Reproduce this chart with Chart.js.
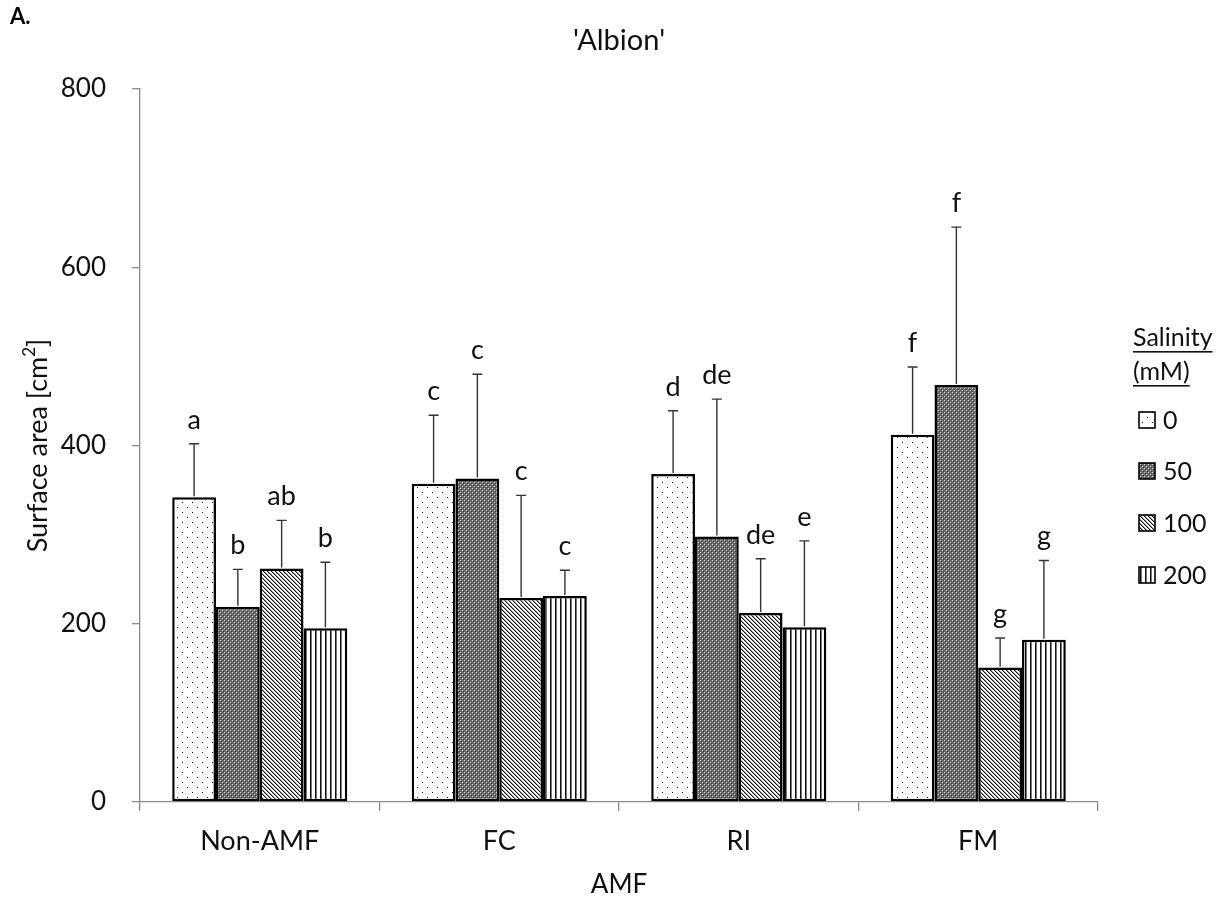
<!DOCTYPE html>
<html>
<head>
<meta charset="utf-8">
<script src="https://cdn.jsdelivr.net/npm/chart.js@4/dist/chart.umd.min.js"></script>
<style>
html,body{margin:0;padding:0;background:#fff;}
#wrap{width:1228px;height:901px;}
</style>
</head>
<body>
<div id="wrap"><canvas id="c" width="1228" height="901"></canvas></div>
<script>
// ---- data ----
const categories = ['Non-AMF', 'FC', 'RI', 'FM'];
const seriesNames = ['0', '50', '100', '200'];
const sal0 = [342, 357, 368, 412];
const sal50 = [219, 363, 298, 468];
const sal100 = [262, 229, 212, 151];
const sal200 = [195, 231, 196, 182];
const err0 = [60, 77, 71, 76];
const err50 = [42, 117, 154, 177];
const err100 = [54, 115, 61, 33];
const err200 = [74, 29, 97, 89];
const letters0 = ['a', 'c', 'd', 'f'];
const letters50 = ['b', 'c', 'de', 'f'];
const letters100 = ['ab', 'c', 'de', 'g'];
const letters200 = ['b', 'c', 'e', 'g'];
const yTicks = [0, 200, 400, 600, 800];

const FONT = 'Lato, "Open Sans", sans-serif';

// ---- patterns ----
function makePattern(kind) {
  const t = document.createElement('canvas');
  const g = t.getContext('2d');
  if (kind === 'dots') {
    t.width = 10; t.height = 10;
    g.fillStyle = '#fff'; g.fillRect(0, 0, 10, 10);
    g.fillStyle = '#111';
    g.fillRect(2, 2, 1, 1); g.fillRect(7, 7, 1, 1);
  } else if (kind === 'dark') {
    t.width = 4; t.height = 4;
    g.fillStyle = '#6a6a6a'; g.fillRect(0, 0, 4, 4);
    g.fillStyle = '#d8d8d8';
    g.fillRect(0, 0, 1, 1); g.fillRect(2, 2, 1, 1);
    g.fillStyle = '#3a3a3a';
    g.fillRect(1, 1, 1, 1); g.fillRect(3, 3, 1, 1);
  } else if (kind === 'diag') {
    t.width = 4; t.height = 4;
    g.fillStyle = '#fff'; g.fillRect(0, 0, 4, 4);
    for (let i = 0; i < 4; i++) {
      g.fillStyle = '#111'; g.fillRect(i, i, 1, 1);
      g.fillStyle = '#999'; g.fillRect((i + 1) % 4, i, 1, 1);
    }
  } else if (kind === 'vert') {
    t.width = 5; t.height = 5;
    g.fillStyle = '#fff'; g.fillRect(0, 0, 5, 5);
    g.fillStyle = '#111'; g.fillRect(0, 0, 1, 5);
    g.fillStyle = '#777'; g.fillRect(1, 0, 1, 5);
  }
  return document.getElementById('c').getContext('2d').createPattern(t, 'repeat');
}
const patterns = [makePattern('dots'), makePattern('dark'), makePattern('diag'), makePattern('vert')];
const values = [sal0, sal50, sal100, sal200];
const errs = [err0, err50, err100, err200];
const letters = [letters0, letters50, letters100, letters200];

const datasets = seriesNames.map((n, i) => ({
  label: n,
  data: values[i],
  backgroundColor: patterns[i],
  borderColor: '#000',
  borderWidth: 2.5,
  borderSkipped: false,
  categoryPercentage: 0.731,
  barPercentage: 1.0
}));

const overlay = {
  id: 'overlay',
  afterDatasetsDraw(chart) {
    const ctx = chart.ctx;
    const ys = chart.scales.y;
    ctx.save();
    chart.data.datasets.forEach((ds, di) => {
      const meta = chart.getDatasetMeta(di);
      meta.data.forEach((bar, i) => {
        const top = bar.y;
        const ey = ys.getPixelForValue(ds.data[i] + errs[di][i]);
        ctx.strokeStyle = '#333';
        ctx.lineWidth = 1.4;
        ctx.beginPath();
        ctx.moveTo(bar.x, top - 1);
        ctx.lineTo(bar.x, ey);
        ctx.moveTo(bar.x - 5, ey);
        ctx.lineTo(bar.x + 5, ey);
        ctx.stroke();
        ctx.fillStyle = '#111';
        ctx.font = '27px ' + FONT;
        ctx.textAlign = 'center';
        ctx.textBaseline = 'alphabetic';
        ctx.fillText(letters[di][i], bar.x, ey - 15);
      });
    });
    ctx.restore();
  },
  afterDraw(chart) {
    const ctx = chart.ctx;
    const ca = chart.chartArea;
    ctx.save();
    // panel label
    ctx.fillStyle = '#000';
    ctx.font = 'bold 22px ' + FONT;
    ctx.textAlign = 'left';
    ctx.textBaseline = 'alphabetic';
    ctx.fillText('A.', 10, 24);
    // title
    ctx.font = '29px ' + FONT;
    ctx.textAlign = 'center';
    ctx.fillStyle = '#111';
    ctx.fillText("'Albion'", (ca.left + ca.right) / 2, 50);
    // x title
    ctx.font = '26px ' + FONT;
    ctx.textBaseline = 'middle';
    ctx.fillText('AMF', (ca.left + ca.right) / 2, 885);
    // y title
    ctx.save();
    ctx.translate(38, (ca.top + ca.bottom) / 2);
    ctx.rotate(-Math.PI / 2);
    ctx.font = '27px ' + FONT;
    const t1 = 'Surface area [cm';
    const w1 = ctx.measureText(t1).width;
    ctx.font = '17px ' + FONT;
    const w2 = ctx.measureText('2').width;
    ctx.font = '27px ' + FONT;
    const w3 = ctx.measureText(']').width;
    const total = w1 + w2 + w3;
    let x0 = -total / 2;
    ctx.textAlign = 'left';
    ctx.fillText(t1, x0, 0);
    ctx.font = '17px ' + FONT;
    ctx.fillText('2', x0 + w1, -8);
    ctx.font = '27px ' + FONT;
    ctx.fillText(']', x0 + w1 + w2, 0);
    ctx.restore();
    // legend
    ctx.font = '25px ' + FONT;
    ctx.textAlign = 'left';
    ctx.textBaseline = 'middle';
    ctx.fillStyle = '#111';
    const lx = 1133;
    const heads = [['Salinity', 338], ['(mM)', 372]];
    heads.forEach(([t, y]) => {
      ctx.fillText(t, lx, y);
      const w = ctx.measureText(t).width;
      ctx.fillRect(lx, y + 13, w, 1.6);
    });
    const ly = [420, 471, 523, 575];
    seriesNames.forEach((n, i) => {
      ctx.fillStyle = patterns[i];
      ctx.fillRect(1139, ly[i] - 8, 16, 16);
      ctx.strokeStyle = '#000';
      ctx.lineWidth = 1.6;
      ctx.strokeRect(1139, ly[i] - 8, 16, 16);
      ctx.fillStyle = '#111';
      ctx.fillText(n, 1163, ly[i] + 1);
    });
    ctx.restore();
  }
};

new Chart(document.getElementById('c'), {
  type: 'bar',
  data: { labels: categories, datasets },
  options: {
    responsive: false,
    animation: false,
    devicePixelRatio: 1,
    layout: { padding: { top: 89, right: 130, bottom: 0, left: 0 } },
    plugins: { legend: { display: false }, tooltip: { enabled: false }, title: { display: false } },
    scales: {
      x: {
        grid: { offset: true, drawOnChartArea: false, drawTicks: true, tickLength: 9, color: '#8a8a8a', lineWidth: 1.3 },
        border: { color: '#8a8a8a', width: 1.3 },
        ticks: { color: '#111', font: { family: FONT, size: 27 }, padding: 14 },
        afterFit(s) { s.height = 99; }
      },
      y: {
        min: 0, max: 800,
        afterBuildTicks(s) { s.ticks = yTicks.map(v => ({ value: v })); },
        grid: { drawOnChartArea: false, drawTicks: true, tickLength: 8, color: '#8a8a8a', lineWidth: 1.3 },
        border: { color: '#8a8a8a', width: 1.3 },
        ticks: { color: '#111', font: { family: FONT, size: 26 }, padding: 26 },
        afterFit(s) { s.width = 140; }
      }
    }
  },
  plugins: [overlay]
});
</script>
</body>
</html>
